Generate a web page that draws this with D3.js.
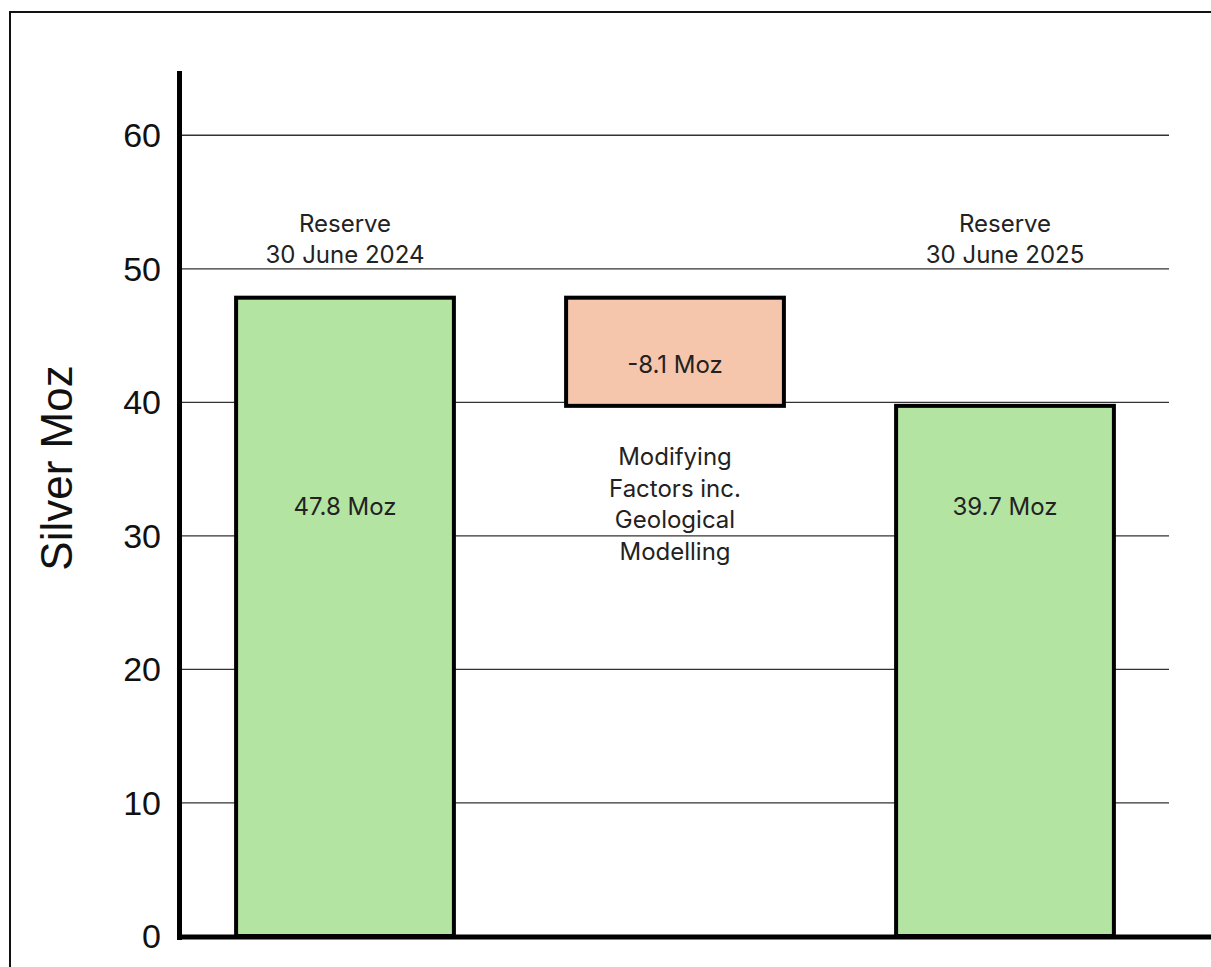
<!DOCTYPE html>
<html>
<head>
<meta charset="utf-8">
<script src="https://cdn.jsdelivr.net/npm/d3@7"></script>
<style>
  html, body { margin: 0; padding: 0; background: #fff; overflow: hidden; width: 1211px; height: 967px; }
  svg { display: block; position: absolute; left: 0; top: 0; }
</style>
</head>
<body>
<script>
// Silver reserve reconciliation, 30 June 2024 -> 30 June 2025 (Moz)
const categories = ["Reserve 2024", "Modifying Factors", "Reserve 2025"];
const barKinds = ["total", "change", "total"];
const barValues = [47.8, -8.1, 39.7];
const valueLabels = ["47.8 Moz", "-8.1 Moz", "39.7 Moz"];
const topLabels = [["Reserve", "30 June 2024"], [], ["Reserve", "30 June 2025"]];
const belowLabels = [[], ["Modifying", "Factors inc.", "Geological", "Modelling"], []];
const yTicks = [0, 10, 20, 30, 40, 50, 60];
const yMax = 65;
const yTitle = "Silver Moz";

const W = 1211, H = 967;
const svg = d3.select("body").append("svg").attr("width", W).attr("height", H);

// white page background
svg.append("rect").attr("width", W).attr("height", H).attr("fill", "#fff");

// frame: top and left edges of the chart area
svg.append("path")
  .attr("d", `M10,${H} L10,12 L${W + 20},12`)
  .attr("fill", "none").attr("stroke", "#111").attr("stroke-width", 2);

const x = d3.scaleBand().domain(categories).range([180, 1170])
  .paddingInner(0.34).paddingOuter(0.17);
const y = d3.scaleLinear().domain([0, yMax]).range([936, 68]);

// waterfall segments: totals start at zero, changes float from the running total
let running = 0;
const segs = categories.map((c, i) => {
  let lo, hi;
  if (barKinds[i] === "total") { lo = 0; hi = barValues[i]; running = barValues[i]; }
  else { const next = running + barValues[i]; lo = Math.min(running, next); hi = Math.max(running, next); running = next; }
  return { c, i, lo, hi, kind: barKinds[i] };
});

// gridlines
const gridAxis = d3.axisLeft(y).tickValues(yTicks.filter(t => t > 0))
  .tickSize(-(1169 - 181)).tickFormat("");
svg.append("g").attr("transform", "translate(181,0)").call(gridAxis)
  .call(g => g.select(".domain").remove())
  .call(g => g.selectAll("line").attr("stroke", "#333").attr("stroke-width", 1.3));

// tick labels
const labelAxis = d3.axisLeft(y).tickValues(yTicks).tickSize(0).tickPadding(0);
svg.append("g").attr("transform", "translate(161,0)").call(labelAxis)
  .call(g => g.select(".domain").remove())
  .call(g => g.selectAll("text")
    .attr("font-family", "'Liberation Sans', Arial, sans-serif")
    .attr("font-size", 34).attr("fill", "#111").attr("dy", "0.35em"));

// bars
svg.append("g").selectAll("rect").data(segs).join("rect")
  .attr("x", d => x(d.c))
  .attr("width", x.bandwidth())
  .attr("y", d => y(d.hi))
  .attr("height", d => y(d.lo) - y(d.hi))
  .attr("fill", d => d.kind === "total" ? "#b4e4a2" : "#f5c6ab")
  .attr("stroke", "#000").attr("stroke-width", 4);

// axes lines
svg.append("line").attr("x1", 179.5).attr("x2", 179.5).attr("y1", y(yMax) + 3).attr("y2", 940)
  .attr("stroke", "#000").attr("stroke-width", 5);
svg.append("line").attr("x1", 177).attr("x2", W + 20).attr("y1", 937).attr("y2", 937)
  .attr("stroke", "#000").attr("stroke-width", 5);

const txtFont = "Inter, 'Noto Sans', sans-serif";
const txtSize = 24;
const cx = d => x(d.c) + x.bandwidth() / 2;

// value labels inside bars
svg.append("g").selectAll("text").data(segs).join("text")
  .attr("x", cx)
  .attr("y", d => d.kind === "total" ? 515 : y(d.hi) + 75)
  .attr("text-anchor", "middle").attr("font-family", txtFont)
  .attr("font-size", txtSize).attr("fill", "#222")
  .text((d, i) => valueLabels[i]);

// category labels above the totals and below the change box
segs.forEach(d => {
  topLabels[d.i].forEach((t, k) => {
    svg.append("text").attr("x", cx(d)).attr("y", 232 + k * 31)
      .attr("text-anchor", "middle").attr("font-family", txtFont)
      .attr("font-size", txtSize).attr("fill", "#222").text(t);
  });
  belowLabels[d.i].forEach((t, k) => {
    svg.append("text").attr("x", cx(d)).attr("y", 465 + k * 31.7)
      .attr("text-anchor", "middle").attr("font-family", txtFont)
      .attr("font-size", txtSize).attr("fill", "#222").text(t);
  });
});

// y axis title
svg.append("text").attr("transform", "translate(72,468) rotate(-90)")
  .attr("text-anchor", "middle")
  .attr("font-family", "'Liberation Sans', Arial, sans-serif")
  .attr("font-size", 44).attr("fill", "#111").text(yTitle);

// keep the right margin clear
svg.append("rect").attr("x", 1185).attr("y", 16).attr("width", 30).attr("height", 915).attr("fill", "#fff");
</script>
</body>
</html>
